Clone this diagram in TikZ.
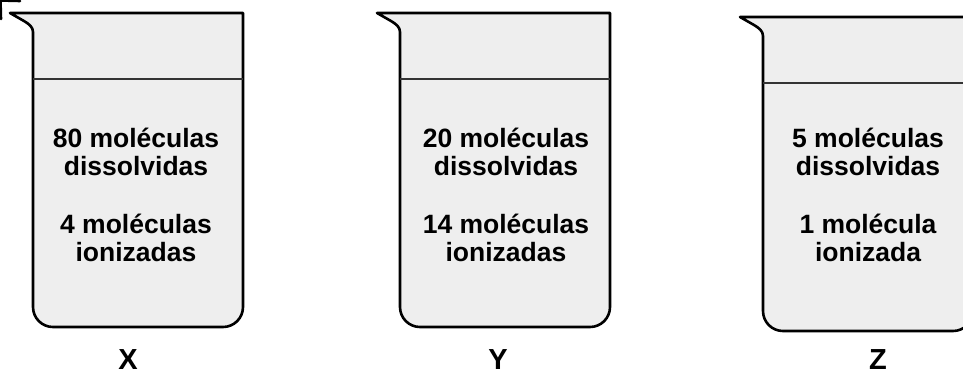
\documentclass[tikz,border=0pt]{standalone}
\usepackage{fontspec}
\setmainfont{Liberation Sans}

\tikzset{
    beaker/.style={draw=black, fill=gray!13, line width=2.6pt, line join=round},
    level/.style={draw=black!80, line width=1.4pt},
    info/.style={align=center, inner sep=0pt, font=\fontsize{26.5}{28}\selectfont\bfseries},
    tag/.style={anchor=base, inner sep=0pt, font=\fontsize{29}{31}\selectfont\bfseries},
}

\begin{document}
\begin{tikzpicture}[x=1pt, y=-1pt]
    \useasboundingbox (0,0) rectangle (963,376);
    \foreach \name/\lw/\rw/\tp/\lv/\bt/\tx/\lx/\diss/\ion in {
        X/33/243/13/79/327/136/128/{80 moléculas\\dissolvidas}/{4 moléculas\\ionizadas},
        Y/400/610/13/79/327/506/498/{20 moléculas\\dissolvidas}/{14 moléculas\\ionizadas},
        Z/763/973/17/83/331/868/878/{5 moléculas\\dissolvidas}/{1 molécula\\ionizada},
     } {
        \filldraw [beaker] (\lw,\tp+19)
            .. controls (\lw,\tp+14) and (\lw-4,\tp+11) .. (\lw-9,\tp+8)
            -- (\lw-23,\tp) -- (\rw,\tp) -- (\rw,\bt-20) arc (0:90:20)
            -- (\lw+20,\bt) arc (90:180:20) -- cycle;
        \draw [level] (\lw,\lv) -- (\rw,\lv);
        \node [info] (\name diss) at (\tx,152) {\diss};
        \node [info] (\name ion) at (\tx,238) {\ion};
        \node [tag] (\name tag) at (\lx,369.5) {\name};
    }
\end{tikzpicture}
\end{document}
